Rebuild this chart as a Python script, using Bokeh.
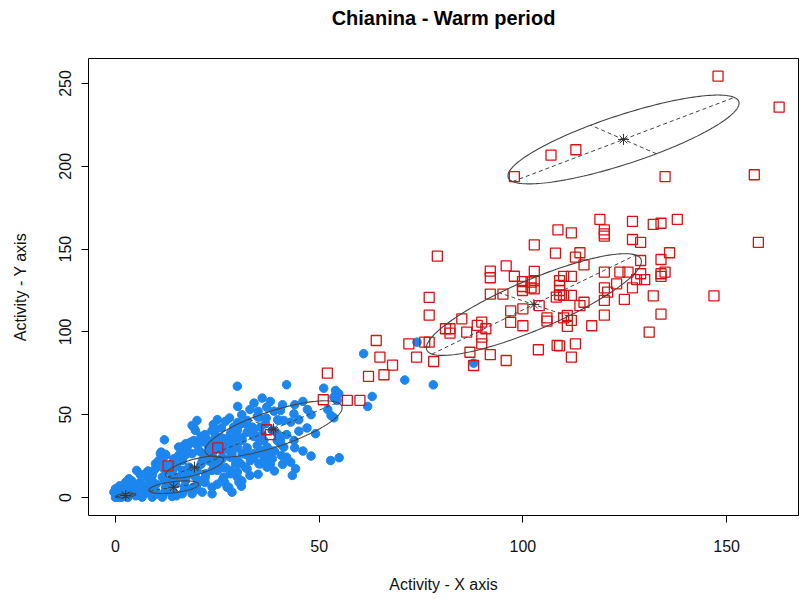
import numpy as np
from bokeh.plotting import figure
from bokeh.layouts import column
from bokeh.models import Range1d, FixedTicker, Div
from bokeh.embed import file_html
from bokeh.resources import INLINE

# ---- data ----
red_x = [147.9, 162.9, 106.9, 113.0, 97.9, 134.9, 156.8, 157.8,
         79.0, 77.0, 77.0, 64.0, 64.9, 68.0, 62.1, 65.9, 72.0, 73.9, 75.9, 77.0, 78.1, 56.9, 60.0,
         81.0, 82.1, 82.1, 85.0, 86.2, 88.8, 89.9, 90.9, 89.9, 89.9, 87.0, 87.9, 92.0, 95.9,
         92.0, 92.0, 95.9, 92.0, 95.1, 97.9, 97.0, 97.0, 100.0, 100.0, 99.9, 99.9, 99.9,
         102.0, 102.0, 102.8, 102.8, 102.8, 102.8, 104.0, 103.8, 105.9, 105.9, 108.6, 108.0, 108.2, 108.4,
         118.9, 126.9, 132.0, 133.9, 137.9, 111.9, 120.0, 120.0, 120.0, 126.9, 128.9,
         112.9, 114.0, 115.0, 136.0, 128.9, 133.9, 120.0, 123.8, 125.8, 128.9, 133.9, 134.9, 133.9,
         110.0, 111.9, 109.0, 109.0, 109.0, 109.0, 110.0, 111.9, 127.9, 129.9, 123.0, 120.0, 120.8,
         126.9, 120.0, 124.9, 132.0, 146.9, 114.0, 115.0, 120.0, 133.9, 110.0, 110.9, 111.9, 110.9,
         116.9, 131.0, 109.0, 112.9, 111.9,
         52.0, 51.0, 37.1, 38.0, 25.1, 12.9]
red_y = [254.4, 235.7, 206.7, 210.0, 193.8, 193.8, 194.9, 154.0,
         145.7, 120.8, 110.1, 94.8, 84.7, 79.9, 73.1, 74.1, 92.8, 84.7, 93.8, 93.8, 82.1, 58.6, 58.6,
         101.9, 101.9, 99.2, 107.9, 99.8, 103.9, 105.9, 101.9, 96.8, 92.8, 87.7, 79.7, 86.2, 82.7,
         136.7, 132.7, 139.9, 122.8, 122.8, 133.6, 112.7, 105.7, 113.9, 103.7, 130.4, 127.4, 125.0,
         130.0, 126.6, 136.5, 131.0, 126.0, 152.6, 115.8, 89.2, 108.5, 106.5, 161.6, 147.5, 121.0, 91.8,
         167.9, 166.7, 164.9, 165.6, 167.9, 159.8, 161.6, 159.2, 157.8, 155.8, 154.0,
         145.1, 147.8, 140.5, 147.8, 143.1, 143.7, 136.1, 136.1, 136.1, 135.1, 135.1, 136.1, 133.5,
         133.5, 133.5, 131.0, 128.0, 125.0, 122.4, 122.0, 122.0, 131.6, 131.6, 129.0, 126.6, 124.0,
         126.6, 119.0, 119.6, 121.8, 121.8, 115.8, 117.9, 110.1, 110.7, 108.5, 109.9, 106.9, 103.3,
         103.7, 99.8, 91.6, 92.8, 84.7,
         75.1, 59.0, 40.9, 37.9, 30.0, 19.1]

blue_x = [60.9, 74.0, 87.9, 71.0, 78.0, 51.1, 54.0, 54.8, 53.6, 54.4, 63.0, 61.9, 52.1, 52.9, 53.6,
          49.1, 52.8, 54.9, 42.0, 29.9, 47.1, 45.0, 43.0, 43.0, 44.2, 33.0, 35.2, 39.8, 40.5, 40.7,
          33.0, 30.9, 27.4, 26.8, 23.7, 20.0, 19.2, 19.6, 12.0, 11.0,
          40.1, 37.1, 38.9, 34.8, 32.0, 30.0, 33.6, 32.3, 33.9, 29.9, 40.1, 40.5, 39.7, 37.2, 35.6,
          34.8, 32.3, 29.0, 28.2, 26.6, 29.0, 27.4, 25.8, 33.1, 35.2, 36.4, 38.5, 42.0, 43.4,
          18.8, 22.7, 20.9, 18.4, 17.6, 28.2, 29.9, 26.2, 24.1, 20.9, 18.8, 17.0, 26.6, 28.2, 29.9, 25.0,
          11.2, 12.3, 16.0, 18.0, 20.0, 22.9, 15.5, 17.2, 27.8, 24.5,
          5.2, 7.4, 9.0, 3.3, 4.1, 2.5, 0.0, -0.4, 0.4, 1.6, 12.3, 9.8, 10.6, 15.5, 17.2, 19.6,
          20.4, 22.1, 23.7, 24.5, 27.8, 29.5, 30.3, 31.1, 26.2, 28.6, 31.1, 29.5, 31.9, 27.8, 30.3, 28.6,
          4.9, 7.4, 9.8, 12.3, 14.7, 17.2, 19.6, 22.1, 23.7, 25.4, 6.5, 9.0, 11.5, 13.9, 16.4, 18.8,
          21.3, 23.7, 26.2, 8.2, 11.5, 13.9, 16.4, 18.0, 21.3, 23.7, 26.2, 16.4, 13.9,
          25.8, 26.2, 22.5, 24.5, 29.0, 30.7, 32.3, 33.9, 34.8, 36.4, 37.2, 38.0, 38.5, 35.6, 36.8,
          40.5, 41.3, 43.8, 39.7, 43.8, 41.3, 37.2, 33.9, 30.7, 28.2, 32.3, 35.6, 29.9, 37.2,
          19.2, 17.6, 16.0, 14.3, 11.9, 9.4, 7.8, 6.1, 4.5, 2.9, 1.2,
          1.0, 2.0, 3.0, 4.0, 5.0, 6.0, 7.0, 8.0, 3.0, 2.0, 1.0, 5.0, 10.0, 12.0, 14.0, 15.0,
          17.0, 19.0, 20.0, 21.0, 15.0, 13.0, 10.0, 8.0, 6.0, 24.0, 26.0, 22.0, 19.0, 16.0, 13.0,
          22.0, 24.0, 26.0, 27.0, 28.0, 25.0, 31.0, 30.0, 34.0, 36.0, 38.0, 41.0, 44.0, 46.0, 48.0,
          47.0, 45.0, 42.0, 44.0, 46.0, 48.0, 36.0, 37.0, 35.0, 31.0, 30.0, 32.0, 34.0, 24.0, 22.0,
          21.0, 23.0, 25.0, 27.0, 20.0, 18.0, 15.0, 14.0, 12.0, 10.0, 8.0, 6.0, 21.0, 23.0, 26.0,
          28.0, 36.0, 39.0, 38.0, 41.0, 39.0, 35.0, 31.0, 25.0, 22.0, 20.0, 17.0, 12.0, 9.0, 6.0,
          3.0, 2.0, 0.0, 1.0, 4.0]
blue_y = [86.8, 93.8, 81.1, 70.9, 68.0, 66.0, 64.6, 62.6, 60.6, 58.6, 61.0, 55.0, 53.1, 49.5, 48.1,
          38.5, 22.3, 24.0, 68.1, 67.2, 53.1, 46.9, 45.5, 21.3, 17.3, 53.1, 48.5, 46.9, 34.4, 25.4,
          13.3, 6.8, 6.2, 9.2, 2.2, 46.5, 42.5, 40.5, 34.8, 26.4,
          46.5, 54.5, 52.1, 48.9, 44.5, 45.3, 42.5, 39.4, 36.8, 40.5, 36.4, 32.4, 34.4, 29.4, 28.4,
          31.4, 30.0, 34.4, 38.5, 35.4, 31.4, 30.4, 29.4, 22.3, 20.3, 22.3, 23.4, 24.3, 13.3,
          43.5, 34.4, 33.4, 33.4, 31.4, 24.3, 22.3, 24.3, 23.4, 27.4, 26.4, 25.4, 12.3, 14.3, 15.3, 16.3,
          27.4, 26.0, 30.4, 32.4, 32.8, 33.4, 25.4, 27.4, 33.4, 32.6,
          16.3, 14.3, 13.3, 11.3, 8.3, 9.2, 5.3, 3.2, 1.2, 0.2, 25.4, 20.3, 22.3, 30.4, 32.4, 32.4,
          28.4, 35.4, 40.5, 37.4, 34.4, 38.5, 43.5, 34.4, 23.4, 26.4, 26.4, 20.3, 18.3, 6.2, 9.2, 3.2,
          6.2, 6.2, 4.2, 6.2, 8.3, 10.3, 12.3, 14.3, 16.3, 18.3, 0.2, 0.2, 0.2, 0.6, 2.2, 2.2,
          3.2, 6.2, 10.3, 11.3, 12.3, 13.3, 16.3, 18.3, 22.3, 26.4, 28.4, 22.3, 20.3,
          34.4, 31.4, 32.4, 40.5, 42.5, 44.5, 46.5, 40.5, 36.4, 34.4, 30.4, 28.4, 40.5, 42.5, 44.5,
          52.5, 46.5, 50.5, 38.5, 34.4, 30.4, 24.3, 26.4, 20.3, 16.3, 17.3, 20.3, 12.3, 18.3,
          34.4, 30.4, 26.4, 23.4, 20.3, 16.3, 12.3, 9.2, 6.2, 4.2, 2.2,
          0.0, 1.0, 0.0, 2.0, 1.0, 3.0, 2.0, 4.0, 3.0, 5.0, 4.0, 4.0, 2.0, 3.0, 4.0, 1.0,
          5.0, 6.0, 8.0, 10.0, 11.0, 9.0, 8.0, 7.0, 5.0, 20.0, 18.0, 12.0, 15.0, 13.0, 16.0,
          38.0, 44.0, 42.0, 46.0, 48.0, 47.0, 50.0, 55.0, 57.0, 60.0, 58.0, 56.0, 56.0, 58.0, 50.0,
          42.0, 40.0, 38.0, 30.0, 28.0, 25.0, 38.0, 48.0, 52.0, 36.0, 30.0, 26.0, 24.0, 28.0, 26.0,
          20.0, 22.0, 20.0, 18.0, 16.0, 14.0, 19.0, 16.0, 17.0, 18.0, 16.0, 14.0, 37.0, 30.0, 36.0,
          28.0, 26.0, 28.0, 20.0, 20.0, 16.0, 14.0, 10.0, 8.0, 9.0, 5.0, 7.0, 10.0, 10.0, 8.0,
          6.0, 3.0, 0.0, 7.0, 10.0]

# cluster ellipses: centre, major semi-axis vector, minor semi-axis length
ell_cx = [124.7, 102.7, 38.8, 19.4, 14.3, 2.5]
ell_cy = [216.2, 116.5, 41.3, 18.3, 6.2, 1.2]
ell_ax = [27.2, 25.0, 15.7, 6.6, 6.0, 2.45]
ell_ay = [25.4, 29.9, 16.0, 6.0, 2.4, 0.9]
ell_b = [11.8, 11.0, 8.5, 3.9, 3.2, 1.2]

x_ticks = [0, 50, 100, 150]
y_ticks = [0, 50, 100, 150, 200, 250]
title_text = "Chianina - Warm period"

FONT = "Liberation Sans"

title = Div(text=title_text, width=711, height=57, margin=(0, 0, 0, 88),
            styles={"font-family": FONT, "font-size": "20px", "font-weight": "bold",
                    "color": "black", "text-align": "center", "line-height": "36px"})

p = figure(width=799, height=542, output_backend="svg", toolbar_location=None,
           x_range=Range1d(-6.63, 167.65), y_range=Range1d(-10.9, 265.1),
           min_border_left=88, min_border_right=1, min_border_top=1, min_border_bottom=84,
           margin=(0, 0, 0, 0))
p.grid.visible = False
p.background_fill_color = "white"
p.border_fill_color = "white"
p.outline_line_color = "black"
p.outline_line_width = 1

for ax in (p.xaxis[0], p.yaxis[0]):
    ax.axis_line_color = None
    ax.major_tick_in = 0
    ax.major_tick_out = 7
    ax.major_tick_line_color = "black"
    ax.minor_tick_line_color = None
    ax.major_label_text_font = FONT
    ax.major_label_text_font_size = "16px"
    ax.major_label_text_color = "#111111"
    ax.axis_label_text_font = FONT
    ax.axis_label_text_font_size = "16px"
    ax.axis_label_text_font_style = "normal"
    ax.axis_label_text_color = "#111111"

p.xaxis.ticker = FixedTicker(ticks=x_ticks)
p.yaxis.ticker = FixedTicker(ticks=y_ticks)
p.xaxis.axis_label = "Activity - X axis"
p.yaxis.axis_label = "Activity - Y axis"
p.xaxis.major_label_standoff = 17
p.xaxis.axis_label_standoff = 21
p.yaxis.major_label_orientation = "vertical"
p.yaxis.major_label_standoff = 10
p.yaxis.axis_label_standoff = 28

p.scatter(blue_x, blue_y, marker="circle", size=8.5, fill_color="#1C86EE", line_color="#1C86EE")
p.scatter(red_x, red_y, marker="square", size=10, fill_color=None, line_color="#DD1111", line_width=1.3)

t = np.linspace(0, 2 * np.pi, 200)
exs, eys, lxs, lys = [], [], [], []
for cx, cy, axx, axy, b in zip(ell_cx, ell_cy, ell_ax, ell_ay, ell_b):
    la = np.hypot(axx, axy)
    bx, by = -axy / la * b, axx / la * b
    exs.append(cx + axx * np.cos(t) + bx * np.sin(t))
    eys.append(cy + axy * np.cos(t) + by * np.sin(t))
    lxs += [[cx - axx, cx + axx], [cx - bx, cx + bx]]
    lys += [[cy - axy, cy + axy], [cy - by, cy + by]]

p.multi_line(exs, eys, line_color="#444444", line_width=1.1)
p.multi_line(lxs, lys, line_color="#444444", line_width=1, line_dash="4 3")
p.scatter(ell_cx, ell_cy, marker="asterisk", size=11, line_color="#333333", line_width=1)

layout = column(title, p, spacing=0)
open("out.html", "w").write(file_html(layout, INLINE))
